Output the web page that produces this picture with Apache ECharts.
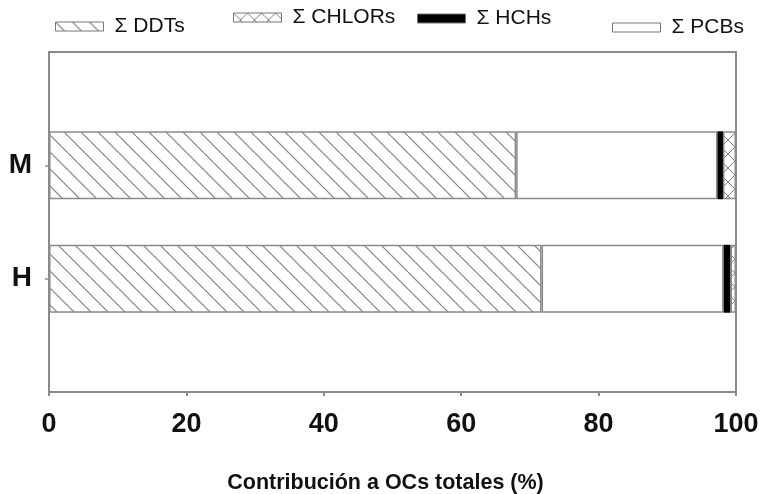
<!DOCTYPE html>
<html>
<head>
<meta charset="utf-8">
<script src="https://cdn.jsdelivr.net/npm/echarts@6/dist/echarts.min.js"></script>
<style>
  html, body { margin: 0; padding: 0; background: #fff; }
  #chart { width: 761px; height: 494px; }
</style>
</head>
<body>
<div id="chart"></div>
<script>
// Sites and the share (%) of each organochlorine group in total OCs
const categories = ['H', 'M'];
const ddts   = [71.7, 68.0];
const pcbs   = [26.5, 29.3];
const hchs   = [1.0, 0.8];
const chlors = [0.8, 1.9];
const xTicks = [0, 20, 40, 60, 80, 100];

const LINE = '#8a8a8a';
const TEXT = '#111';
const FONT = 'Liberation Sans, Arial, sans-serif';

// Diagonal hatching (\\\) for DDTs
function hatchPattern() {
  const s = 17, c = document.createElement('canvas');
  c.width = s; c.height = s;
  const g = c.getContext('2d');
  g.fillStyle = '#fff'; g.fillRect(0, 0, s, s);
  g.strokeStyle = '#808080'; g.lineWidth = 1.2;
  for (const o of [-s, 0, s]) {
    g.beginPath(); g.moveTo(o, 0); g.lineTo(o + s, s); g.stroke();
  }
  return c;
}
// Cross hatching (xxx) for CHLORs
function crossPattern() {
  const s = 14, c = document.createElement('canvas');
  c.width = s; c.height = s;
  const g = c.getContext('2d');
  g.fillStyle = '#fff'; g.fillRect(0, 0, s, s);
  g.strokeStyle = '#808080'; g.lineWidth = 1;
  for (const o of [-s, 0, s]) {
    g.beginPath(); g.moveTo(o, 0); g.lineTo(o + s, s); g.stroke();
    g.beginPath(); g.moveTo(o + s, 0); g.lineTo(o, s); g.stroke();
  }
  return c;
}

// Empty slots above and below keep the two bars off the frame edges
const axisCats = [''].concat(categories, ['']);
const pad = arr => [null].concat(arr, [null]);

const chart = echarts.init(document.getElementById('chart'), null, { renderer: 'canvas' });

function bar(name, values, fill, border) {
  return {
    name, type: 'bar', stack: 'total', barWidth: 68,
    data: pad(values),
    itemStyle: { color: fill, borderColor: border || LINE, borderWidth: 1.5 },
    emphasis: { disabled: true },
    animation: false
  };
}

function legendAt(name, left, top) {
  return {
    data: [name], left, top, padding: 0,
    icon: 'rect', itemWidth: 48, itemHeight: 9,
    itemStyle: { borderColor: '#777', borderWidth: 1 },
    textStyle: { color: TEXT, fontSize: 21, fontFamily: FONT, padding: [0, 0, 0, 6] },
    selectedMode: false
  };
}

chart.setOption({
  backgroundColor: '#fff',
  animation: false,
  legend: [
    legendAt('\u03A3 DDTs', 55, 16),
    legendAt('\u03A3 CHLORs', 233, 7),
    legendAt('\u03A3 HCHs', 417, 8),
    legendAt('\u03A3 PCBs', 612, 17)
  ],
  grid: {
    left: 49, right: 25, top: 52, bottom: 102,
    outerBoundsMode: 'none', containLabel: false,
    show: true, borderColor: LINE, borderWidth: 2, backgroundColor: '#fff'
  },
  xAxis: {
    type: 'value', min: xTicks[0], max: xTicks[xTicks.length - 1], interval: 20,
    axisLine: { show: true, lineStyle: { color: LINE, width: 2 } },
    axisTick: { show: true, length: 4, lineStyle: { color: LINE, width: 2 } },
    splitLine: { show: false },
    axisLabel: { color: TEXT, fontSize: 27, fontWeight: 'bold', fontFamily: FONT, margin: 19 },
    name: 'Contribución a OCs totales (%)',
    nameLocation: 'middle', nameGap: 80,
    nameTextStyle: { color: TEXT, fontSize: 21.5, fontWeight: 'bold', fontFamily: FONT, padding: [0, 14, 0, 0] }
  },
  yAxis: {
    type: 'category', data: axisCats, boundaryGap: false,
    axisLine: { show: true, lineStyle: { color: LINE, width: 2 } },
    axisTick: { show: true, length: 4, interval: (i, v) => v !== '', lineStyle: { color: LINE, width: 1.5 } },
    axisLabel: { color: TEXT, fontSize: 28, fontWeight: 'bold', fontFamily: FONT, margin: 17 },
    splitLine: { show: false }
  },
  series: [
    bar('\u03A3 DDTs', ddts, { image: hatchPattern(), repeat: 'repeat' }),
    bar('\u03A3 PCBs', pcbs, '#ffffff'),
    bar('\u03A3 HCHs', hchs, '#000000', '#000000'),
    bar('\u03A3 CHLORs', chlors, { image: crossPattern(), repeat: 'repeat' })
  ]
});
</script>
</body>
</html>
